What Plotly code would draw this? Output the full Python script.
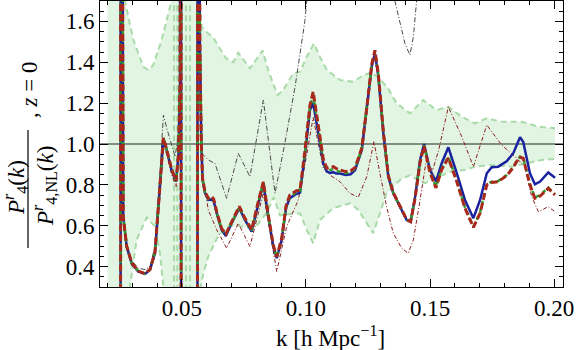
import plotly.graph_objects as go

# ---------------- data ----------------
k_main = [0.0200, 0.0252, 0.0253, 0.0263, 0.0277, 0.0297, 0.0324, 0.0351, 0.0371, 0.0391,
          0.0411, 0.0425, 0.0438, 0.0458, 0.0476, 0.0486, 0.0492, 0.0496, 0.0497, 0.0562,
          0.0563, 0.0572, 0.0578, 0.0583, 0.0593, 0.0606, 0.0618, 0.0628, 0.0640, 0.0660,
          0.0677, 0.0700, 0.0731, 0.0754, 0.0781, 0.0804, 0.0828, 0.0848, 0.0868, 0.0882,
          0.0902, 0.0920, 0.0935, 0.0960, 0.0976, 0.0996, 0.1016, 0.1029, 0.1050, 0.1070,
          0.1084, 0.1098, 0.1110, 0.1122, 0.1137, 0.1160, 0.1180, 0.1198, 0.1225, 0.1245,
          0.1265, 0.1278, 0.1292, 0.1312, 0.1332, 0.1352, 0.1379, 0.1406, 0.1422, 0.1440,
          0.1460, 0.1476, 0.1500, 0.1524, 0.1547, 0.1574, 0.1608, 0.1641, 0.1675, 0.1702,
          0.1729, 0.1749, 0.1775, 0.1809, 0.1836, 0.1850, 0.1863, 0.1876, 0.1903, 0.1923,
          0.1944, 0.1977, 0.2004]

blue_y = [-2.0, -6.0, 6.0, 0.645, 0.498, 0.416, 0.376, 0.364, 0.384, 0.466,
          0.791, 1.028, 0.971, 0.873, 0.816, 0.95, 1.3, 6.0, -6.0, -6.0,
          6.0, 1.5, 1.0, 0.824, 0.759, 0.726, 0.728, 0.720, 0.661, 0.579,
          0.550, 0.612, 0.686, 0.628, 0.571, 0.693, 0.808, 0.645, 0.498, 0.441,
          0.531, 0.690, 0.735, 0.755, 0.762, 0.95, 1.166, 1.200, 1.052, 0.905,
          0.865, 0.858, 0.862, 0.855, 0.855, 0.848, 0.852, 0.873, 0.971, 1.166,
          1.378, 1.443, 1.329, 1.052, 0.840, 0.759, 0.693, 0.628, 0.620, 0.742,
          0.922, 1.000, 0.873, 0.816, 0.905, 0.984, 0.857, 0.726, 0.637, 0.726,
          0.857, 0.886, 0.889, 0.915, 0.955, 1.000, 1.033, 1.010, 0.857, 0.803,
          0.816, 0.861, 0.835]

red_y = [-2.0, -6.0, 6.0, 0.645, 0.500, 0.420, 0.378, 0.366, 0.386, 0.470,
         0.795, 1.030, 0.975, 0.878, 0.820, 0.95, 1.3, 6.0, -6.0, -6.0,
         6.0, 1.5, 1.0, 0.830, 0.765, 0.735, 0.745, 0.730, 0.668, 0.586,
         0.560, 0.620, 0.695, 0.636, 0.580, 0.700, 0.815, 0.652, 0.505, 0.448,
         0.538, 0.700, 0.750, 0.770, 0.775, 0.97, 1.190, 1.256, 1.090, 0.925,
         0.881, 0.885, 0.889, 0.880, 0.872, 0.865, 0.868, 0.885, 0.980, 1.175,
         1.390, 1.459, 1.340, 1.060, 0.845, 0.762, 0.695, 0.630, 0.620, 0.735,
         0.910, 0.990, 0.860, 0.785, 0.875, 0.932, 0.816, 0.686, 0.592, 0.661,
         0.800, 0.812, 0.816, 0.845, 0.885, 0.915, 0.935, 0.930, 0.800, 0.734,
         0.745, 0.783, 0.751]

green_y = [-2.0, -6.0, 6.0, 0.645, 0.500, 0.418, 0.377, 0.365, 0.385, 0.468,
           0.793, 1.029, 0.973, 0.876, 0.818, 0.95, 1.3, 6.0, -6.0, -6.0,
           6.0, 1.5, 1.0, 0.828, 0.762, 0.731, 0.738, 0.726, 0.665, 0.583,
           0.556, 0.617, 0.691, 0.632, 0.576, 0.697, 0.812, 0.649, 0.502, 0.445,
           0.535, 0.696, 0.743, 0.763, 0.769, 0.96, 1.180, 1.240, 1.075, 0.915,
           0.874, 0.873, 0.877, 0.869, 0.864, 0.857, 0.861, 0.880, 0.976, 1.170,
           1.385, 1.452, 1.335, 1.056, 0.843, 0.761, 0.694, 0.629, 0.620, 0.738,
           0.915, 0.994, 0.865, 0.790, 0.880, 0.938, 0.820, 0.690, 0.596, 0.665,
           0.804, 0.815, 0.819, 0.848, 0.888, 0.918, 0.938, 0.932, 0.803, 0.738,
           0.750, 0.787, 0.755]

# thin dark-grey dash-dot curve
k_grey = [0.0200, 0.0252, 0.0253, 0.0263, 0.0277, 0.0297, 0.0324, 0.0351, 0.0371, 0.0391,
          0.0411, 0.0425, 0.0438, 0.0458, 0.0472, 0.0486, 0.0492, 0.0496, 0.0497, 0.0562,
          0.0563, 0.0572, 0.0580, 0.0606, 0.0633, 0.0680, 0.0727, 0.0774, 0.0828, 0.0875,
          0.0915, 0.0956, 0.0996, 0.1010, 0.1150, 0.1300, 0.1359, 0.1399, 0.1419, 0.1433,
          0.1446, 0.1460, 0.1700, 0.2004]
grey_y = [-2.0, -6.0, 6.0, 0.660, 0.510, 0.430, 0.392, 0.385, 0.400, 0.500,
          0.850, 1.142, 1.080, 0.990, 0.938, 1.050, 1.400, 6.0, -6.0, -6.0,
          6.0, 1.300, 0.954, 0.922, 0.905, 0.734, 0.954, 0.840, 1.215, 0.759,
          1.005, 1.280, 1.606, 1.800, 2.200, 2.000, 1.700, 1.492, 1.435, 1.525,
          1.700, 1.850, 2.000, 1.900]

# thin dark-red dash-dot curve
k_dred = [0.0200, 0.0252, 0.0253, 0.0263, 0.0277, 0.0297, 0.0324, 0.0351, 0.0371, 0.0391,
          0.0411, 0.0425, 0.0438, 0.0458, 0.0476, 0.0486, 0.0492, 0.0496, 0.0497, 0.0562,
          0.0563, 0.0572, 0.0580, 0.0606, 0.0640, 0.0680, 0.0727, 0.0774, 0.0828, 0.0882,
          0.0922, 0.0969, 0.0996, 0.1029, 0.1050, 0.1070, 0.1100, 0.1137, 0.1177, 0.1211,
          0.1245, 0.1274, 0.1298, 0.1325, 0.1352, 0.1386, 0.1412, 0.1433, 0.1460, 0.1485,
          0.1510, 0.1535, 0.1574, 0.1628, 0.1675, 0.1729, 0.1789, 0.1843, 0.1883, 0.1910,
          0.1937, 0.1977, 0.2004]
dred_y = [-2.0, -6.0, 6.0, 0.640, 0.490, 0.405, 0.370, 0.360, 0.378, 0.455,
          0.770, 1.000, 0.950, 0.850, 0.790, 0.93, 1.3, 6.0, -6.0, -6.0,
          6.0, 1.4, 0.880, 0.677, 0.580, 0.490, 0.612, 0.498, 0.760, 0.376,
          0.596, 0.726, 0.900, 1.130, 1.000, 0.880, 0.845, 0.816, 0.759, 0.739,
          0.840, 1.011, 0.857, 0.693, 0.563, 0.490, 0.465, 0.531, 0.726, 0.920,
          0.870, 0.970, 1.182, 1.036, 0.889, 1.093, 0.995, 0.938, 0.889, 0.742,
          0.669, 0.693, 0.669]

# shaded region edges
k_band_hi = [0.0200, 0.0265, 0.0270, 0.0304, 0.0344, 0.0364, 0.0384, 0.0418, 0.0445, 0.0458,
             0.0462, 0.0568, 0.0572, 0.0579, 0.0606, 0.0624, 0.0677, 0.0707, 0.0727, 0.0774,
             0.0825, 0.0848, 0.0885, 0.0908, 0.0949, 0.0976, 0.1003, 0.1032, 0.1056, 0.1084,
             0.1137, 0.1191, 0.1231, 0.1265, 0.1298, 0.1332, 0.1365, 0.1419, 0.1473, 0.1527,
             0.1574, 0.1628, 0.1681, 0.1729, 0.1789, 0.1870, 0.1937, 0.2004]
band_hi_y = [3.0, 3.0, 1.700, 1.509, 1.378, 1.362, 1.386, 1.509, 1.639, 1.704,
             3.0, 3.0, 1.700, 1.574, 1.540, 1.525, 1.420, 1.400, 1.447, 1.370,
             1.458, 1.360, 1.240, 1.264, 1.346, 1.354, 1.427, 1.492, 1.427, 1.362,
             1.313, 1.305, 1.337, 1.350, 1.320, 1.270, 1.200, 1.150, 1.215, 1.166,
             1.182, 1.133, 1.101, 1.126, 1.109, 1.109, 1.085, 1.077]

k_band_lo = [0.0200, 0.0288, 0.0290, 0.0317, 0.0358, 0.0391, 0.0411, 0.0425, 0.0428, 0.0570,
             0.0575, 0.0580, 0.0606, 0.0646, 0.0687, 0.0727, 0.0761, 0.0801, 0.0840, 0.0870,
             0.0895, 0.0949, 0.0976, 0.1003, 0.1029, 0.1056, 0.1110, 0.1177, 0.1211, 0.1271,
             0.1325, 0.1379, 0.1419, 0.1460, 0.1480, 0.1534, 0.1588, 0.1641, 0.1681, 0.1749,
             0.1830, 0.1883, 0.1950, 0.2004]
band_lo_y = [-2.0, -2.0, 0.302, 0.531, 0.641, 0.596, 0.466, 0.300, -2.0, -2.0,
             0.300, 0.335, 0.450, 0.550, 0.600, 0.600, 0.590, 0.600, 0.660, 0.740,
             0.650, 0.660, 0.660, 0.580, 0.514, 0.628, 0.686, 0.710, 0.677, 0.563,
             0.759, 0.824, 0.848, 0.816, 0.808, 0.840, 0.865, 0.873, 0.889, 0.897,
             0.889, 0.905, 0.922, 0.927]

# k positions where the shaded-region edges cross singularities
band_pole_k = [0.0468, 0.0481, 0.0516, 0.0532]

reference_level = 1.0

x_ticks = [0.05, 0.10, 0.15, 0.20]
y_ticks = [0.4, 0.6, 0.8, 1.0, 1.2, 1.4, 1.6]
x_range = [0.01694, 0.20363]
y_range = [0.3, 1.7]

# ---------------- figure ----------------
W, H = 576, 350
ML, MR, MT, MB = 100, 13, 1, 63
PW, PH = W - ML - MR, H - MT - MB

def px_x(p):
    return (p - ML) / PW

def px_y(p):
    return (H - MB - p) / PH

FONT = "Liberation Serif"
band_edge = "#a9dba9"
band_fill = "#e2f4e2"

fig = go.Figure()

fig.add_trace(go.Scatter(x=k_band_lo, y=band_lo_y, mode="lines",
                         line=dict(color=band_edge, width=2, dash="6px,4px"),
                         hoverinfo="skip", showlegend=False))
fig.add_trace(go.Scatter(x=k_band_hi, y=band_hi_y, mode="lines", fill="tonexty",
                         fillcolor=band_fill,
                         line=dict(color=band_edge, width=2, dash="6px,4px"),
                         hoverinfo="skip", showlegend=False))

for kp in band_pole_k:
    fig.add_trace(go.Scatter(x=[kp, kp], y=[y_range[0] - 1, y_range[1] + 1], mode="lines",
                             line=dict(color=band_edge, width=2, dash="6px,4px"),
                             hoverinfo="skip", showlegend=False))

fig.add_trace(go.Scatter(x=[x_range[0], x_range[1]], y=[reference_level, reference_level],
                         mode="lines", line=dict(color="#5f6b5f", width=1.6),
                         hoverinfo="skip", showlegend=False))

fig.add_trace(go.Scatter(x=k_grey, y=grey_y, mode="lines",
                         line=dict(color="#4a4a4a", width=1, dash="5px,2px,1px,2px"),
                         showlegend=False))
fig.add_trace(go.Scatter(x=k_dred, y=dred_y, mode="lines",
                         line=dict(color="#8a1c1c", width=1, dash="4px,2px,1px,2px"),
                         showlegend=False))
fig.add_trace(go.Scatter(x=k_main, y=blue_y, mode="lines",
                         line=dict(color="#1a22a0", width=2.5),
                         showlegend=False))
fig.add_trace(go.Scatter(x=k_main, y=green_y, mode="lines",
                         line=dict(color="#2e9a2e", width=2.5, dash="4px,4px"),
                         showlegend=False))
fig.add_trace(go.Scatter(x=k_main, y=red_y, mode="lines",
                         line=dict(color="#a8281c", width=3, dash="7px,3px"),
                         showlegend=False))

axis_common = dict(
    showgrid=False, zeroline=False, showline=True, linecolor="black", linewidth=1,
    mirror="allticks", ticks="inside", ticklen=8, tickwidth=1, tickcolor="black",
    tickfont=dict(family=FONT, size=23, color="black"),
)

fig.update_xaxes(range=x_range, tickvals=x_ticks, ticktext=[f"{v:.2f}" for v in x_ticks],
                 minor=dict(dtick=0.01, tick0=0, ticks="inside", ticklen=4,
                            tickcolor="black", showgrid=False),
                 **axis_common)
fig.update_yaxes(range=y_range, tickvals=y_ticks, ticktext=[f"{v:.1f}" for v in y_ticks],
                 minor=dict(dtick=0.05, tick0=0, ticks="inside", ticklen=4,
                            tickcolor="black", showgrid=False),
                 **axis_common)

title_font = dict(family=FONT, size=23, color="black")
annotations = [
    dict(text="k [h Mpc<sup>\u22121</sup>]", x=px_x(330), y=px_y(336),
         xref="paper", yref="paper", showarrow=False, font=title_font,
         xanchor="center", yanchor="middle"),
    dict(text="<i>P</i><sup><i>r</i></sup><sub>4</sub>(<i>k</i>)", x=px_x(15), y=px_y(188),
         xref="paper", yref="paper", showarrow=False, font=title_font, textangle=-90,
         xanchor="center", yanchor="middle"),
    dict(text="<i>P</i><sup><i>r</i></sup><sub>4,NL</sub>(<i>k</i>)", x=px_x(44), y=px_y(186),
         xref="paper", yref="paper", showarrow=False, font=title_font, textangle=-90,
         xanchor="center", yanchor="middle"),
    dict(text=", <i>z</i> = 0", x=px_x(30), y=px_y(90),
         xref="paper", yref="paper", showarrow=False, font=title_font, textangle=-90,
         xanchor="center", yanchor="middle"),
]

shapes = [
    dict(type="line", xref="paper", yref="paper", x0=px_x(28), x1=px_x(28),
         y0=px_y(248), y1=px_y(130), line=dict(color="black", width=1.2)),
]

fig.update_layout(
    width=W, height=H, margin=dict(l=ML, r=MR, t=MT, b=MB),
    paper_bgcolor="white", plot_bgcolor="white",
    annotations=annotations, shapes=shapes, showlegend=False,
)

fig.write_html("out.html", config={"displayModeBar": False},
               post_script="document.body.style.margin='0px';")
